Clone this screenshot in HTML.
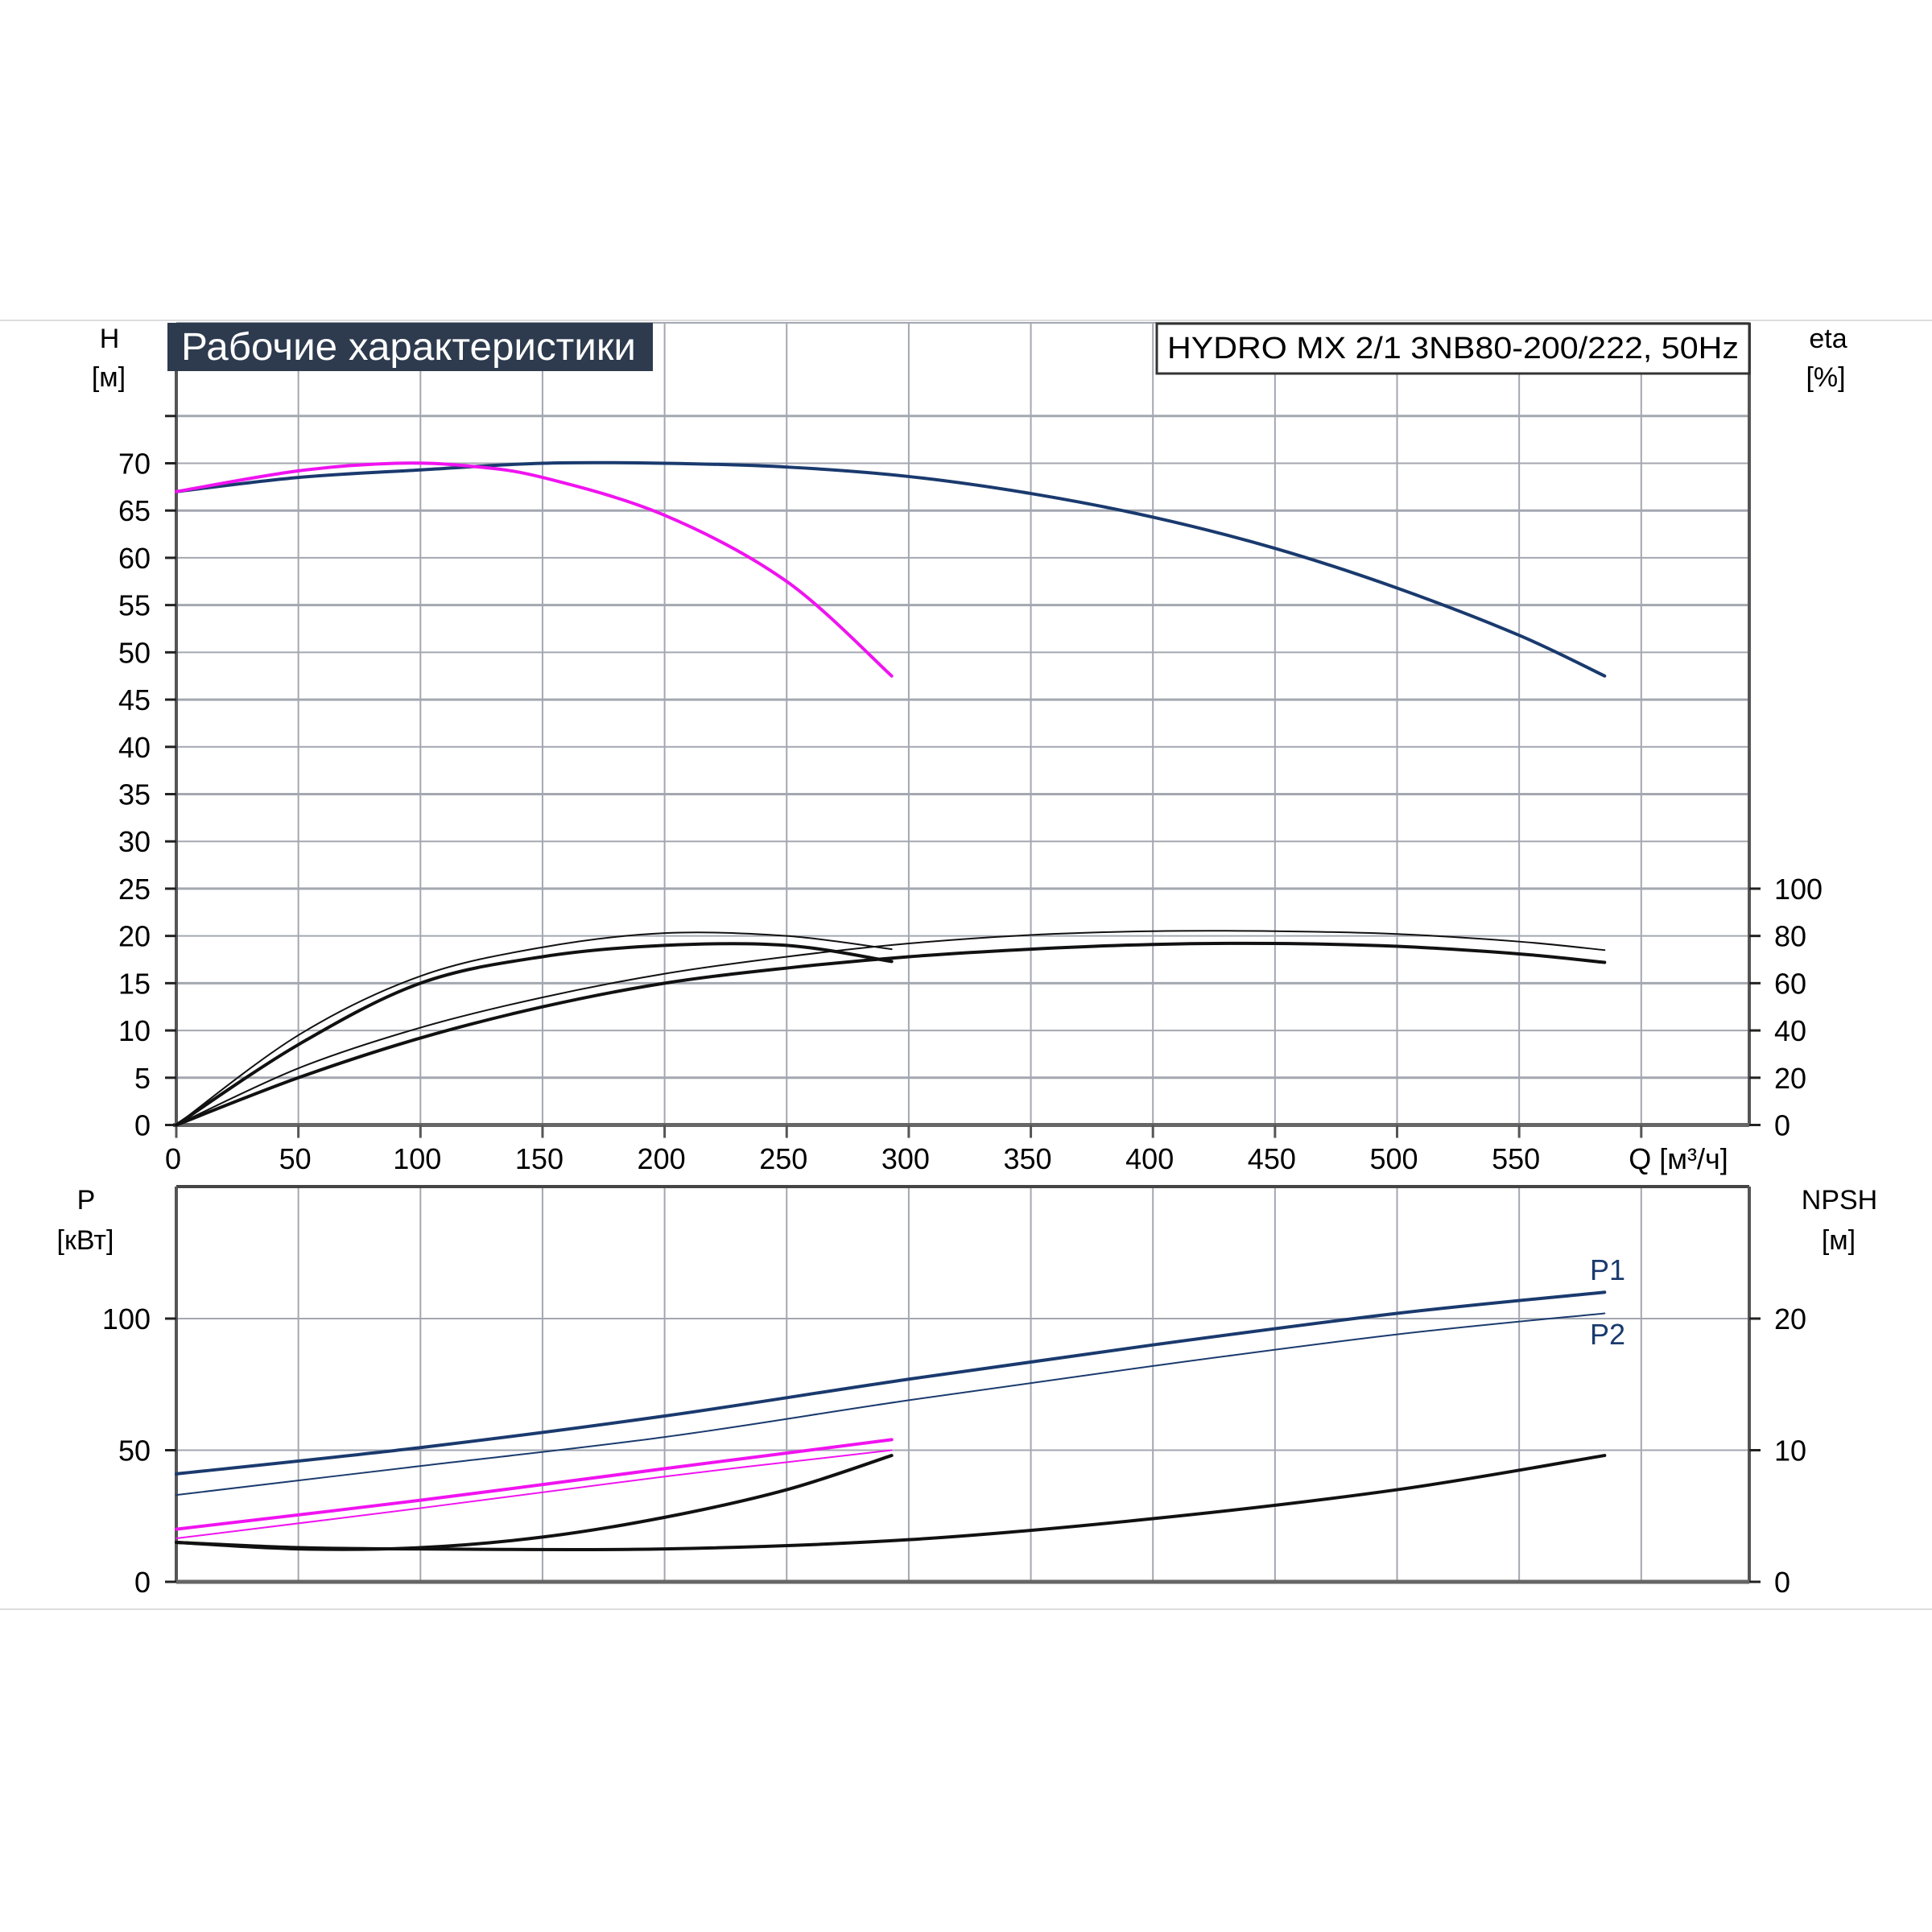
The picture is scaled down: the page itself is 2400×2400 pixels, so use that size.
<!DOCTYPE html>
<html><head><meta charset="utf-8"><style>
html,body{margin:0;padding:0;background:#fff}
svg{display:block}
text{font-family:"Liberation Sans","Noto Sans CJK SC",sans-serif}
</style></head><body>
<svg id="c" width="2400" height="2400" viewBox="0 0 2400 2400"></svg>
<script>
// ---- data ----
const qTicks=[0,50,100,150,200,250,300,350,400,450,500,550];
const hTicks=[0,5,10,15,20,25,30,35,40,45,50,55,60,65,70];
const etaTicks=[0,20,40,60,80,100];
const pTicks=[0,50,100];
const npshTicks=[0,10,20];
const headQ=[0,50,100,150,200,250,300,350,400,450,500,550,585];
const headH=[67,68.5,69.3,70,70,69.6,68.6,66.8,64.3,61,56.8,51.8,47.5];
const headLowQ=[0,50,90,120,150,200,250,293];
const headLowH=[67,69.2,70,69.7,68.5,64.5,57.5,47.5];
const etaQ=[0,50,100,150,200,250,300,350,400,450,500,550,585];
const etaTotal=[0,20,36.8,50,60,66.4,71.2,74.4,76.4,76.8,75.6,72.4,68.8];
const etaPump=[0,24,41.2,54,64,71.2,76.8,80.4,82,82,80.8,77.6,74];
const etaLowQ=[0,50,100,150,200,250,293];
const etaLowTotal=[0,34,60,71.2,76,76,69.2];
const etaLowPump=[0,38,63,75.2,81.2,80,74.4];
const pQ=[0,100,200,300,400,500,585];
const p1=[41,51,63,77,90,102,110];
const p2=[33,44,55,69,82,94,102];
const pLowQ=[0,100,200,293];
const p1Low=[20,31,43,54];
const p2Low=[16.5,28,40,50];
const npshQ=[0,50,100,200,300,400,500,585];
const npsh=[3,2.6,2.5,2.5,3.2,4.8,7,9.6];
const npshLowQ=[0,50,100,150,200,250,293];
const npshLow=[3,2.5,2.6,3.4,4.9,7,9.6];

// ---- axes ----
const X0=219,XR=2173,QU=3.033;
const x=q=>X0+q*QU;
const H0=1397.5,HU=11.743;
const yH=h=>H0-h*HU;
const yE=e=>yH(e/4);
const P0=1965,PU=3.27;
const yP=p=>P0-p*PU;
const yN=n=>yP(n*5);
const svg=document.getElementById('c');
const NS='http://www.w3.org/2000/svg';
function mk(tag,attrs,name,parent){const e=document.createElementNS(NS,tag);for(const k in attrs)e.setAttribute(k,attrs[k]);


(parent||svg).appendChild(e);return e;}
function txt(s,xx,yy,size,anchor,name,fill){const t=mk('text',{x:xx,y:yy,'font-size':size,'text-anchor':anchor||'start',fill:fill||'#000'},name);t.textContent=s;return t;}
function curve(qs,vs,yf,color,w,name){const pts=qs.map((q,i)=>[x(q),yf(vs[i])]);let d='M'+pts[0][0]+','+pts[0][1];
for(let i=0;i<pts.length-1;i++){const p0=pts[i-1]||pts[i],p1=pts[i],p2=pts[i+1],p3=pts[i+2]||p2;
d+=' C'+(p1[0]+(p2[0]-p0[0])/6)+','+(p1[1]+(p2[1]-p0[1])/6)+' '+(p2[0]-(p3[0]-p1[0])/6)+','+(p2[1]-(p3[1]-p1[1])/6)+' '+p2[0]+','+p2[1];}
mk('path',{d:d,fill:'none',stroke:color,'stroke-width':w,'stroke-linecap':'round'},name);}

// separator lines
mk('line',{x1:0,y1:398,x2:2400,y2:398,stroke:'#ddd','stroke-width':2},'top-separator');
mk('line',{x1:0,y1:1999,x2:2400,y2:1999,stroke:'#ddd','stroke-width':2},'bottom-separator');

// top grid
const topY=401;
qTicks.concat([600]).forEach(q=>{if(q>0)mk('line',{x1:x(q),y1:topY,x2:x(q),y2:H0,stroke:'#a3a7b0','stroke-width':2},'grid-v-top');});
hTicks.concat([75]).forEach(h=>{if(h>0)mk('line',{x1:X0,y1:yH(h),x2:XR,y2:yH(h),stroke:'#a3a7b0','stroke-width':h%10==0&&h!=75?2:3},'grid-h-top');});
mk('line',{x1:X0,y1:topY,x2:XR,y2:topY,stroke:'#a3a7b0','stroke-width':2},'top-frame');
mk('line',{x1:X0,y1:topY,x2:X0,y2:H0,stroke:'#555','stroke-width':4},'y-axis-left');
mk('line',{x1:XR,y1:topY,x2:XR,y2:H0,stroke:'#555','stroke-width':4},'y-axis-right');
mk('line',{x1:X0-4,y1:H0,x2:XR,y2:H0,stroke:'#666','stroke-width':5},'x-axis');
hTicks.concat([75]).forEach(h=>{mk('line',{x1:X0-14,y1:yH(h),x2:X0,y2:yH(h),stroke:'#222','stroke-width':3},'y-tick');
if(h<75)txt(String(h),187,yH(h)+13,36,'end','y-tick-label');});
etaTicks.forEach(e=>{mk('line',{x1:XR,y1:yE(e),x2:XR+14,y2:yE(e),stroke:'#222','stroke-width':3},'eta-tick');txt(String(e),2204,yE(e)+13,36,'start','eta-tick-label');});
qTicks.concat([600]).forEach(q=>{mk('line',{x1:x(q),y1:H0,x2:x(q),y2:H0+16,stroke:'#555','stroke-width':3},'x-tick');});
qTicks.forEach(q=>txt(String(q),x(q)-4,1452,36,'middle','x-tick-label'));
txt('Q [м³/ч]',2085,1452,36,'middle','x-axis-title');
txt('H',136,432,34,'middle','y-axis-title');
txt('[м]',135,480,34,'middle','y-axis-unit');
txt('eta',2271,432,34,'middle','eta-axis-title');
txt('[%]',2268,480,34,'middle','eta-axis-unit');

// title boxes
mk('rect',{x:208,y:401,width:603,height:60,fill:'#2e3b4e'},'title-box');
const tt=txt('Рабочие характеристики',225,447,48,'start','chart-title','#fff');
tt.setAttribute('textLength','565');tt.setAttribute('lengthAdjust','spacingAndGlyphs');
mk('rect',{x:1437,y:402,width:736,height:62,fill:'#fff',stroke:'#333','stroke-width':3},'model-box');
const mt=txt('HYDRO MX 2/1 3NB80-200/222, 50Hz',1450,445,38,'start','model-label');
mt.setAttribute('textLength','710');mt.setAttribute('lengthAdjust','spacingAndGlyphs');

// top curves
curve(etaQ,etaPump,yE,'#111',2,'eta-pump-curve');
curve(etaQ,etaTotal,yE,'#111',4,'eta-total-curve');
curve(etaLowQ,etaLowPump,yE,'#111',2,'eta-pump-low-curve');
curve(etaLowQ,etaLowTotal,yE,'#111',4,'eta-total-low-curve');
curve(headQ,headH,yH,'#1a3a6e',4,'head-curve');
curve(headLowQ,headLowH,yH,'#f013f0',4,'head-low-curve');

// bottom chart
const bTop=1474;
qTicks.concat([600]).forEach(q=>{if(q>0)mk('line',{x1:x(q),y1:bTop,x2:x(q),y2:P0,stroke:'#a3a7b0','stroke-width':2},'grid-v-bottom');});
[50,100].forEach(p=>mk('line',{x1:X0,y1:yP(p),x2:XR,y2:yP(p),stroke:'#a3a7b0','stroke-width':2},'grid-h-bottom'));
mk('line',{x1:X0,y1:bTop,x2:XR,y2:bTop,stroke:'#444','stroke-width':4},'bottom-top-frame');
mk('line',{x1:X0,y1:bTop,x2:X0,y2:P0,stroke:'#555','stroke-width':4},'p-axis');
mk('line',{x1:XR,y1:bTop,x2:XR,y2:P0,stroke:'#555','stroke-width':4},'npsh-axis');
mk('line',{x1:X0,y1:P0,x2:XR,y2:P0,stroke:'#666','stroke-width':5},'bottom-x-axis');
pTicks.forEach(p=>{mk('line',{x1:X0-14,y1:yP(p),x2:X0,y2:yP(p),stroke:'#222','stroke-width':3},'p-tick');txt(String(p),187,yP(p)+13,36,'end','p-tick-label');});
npshTicks.forEach(n=>{mk('line',{x1:XR,y1:yN(n),x2:XR+14,y2:yN(n),stroke:'#222','stroke-width':3},'npsh-tick');txt(String(n),2204,yN(n)+13,36,'start','npsh-tick-label');});
txt('P',107,1502,34,'middle','p-axis-title');
txt('[кВт]',106,1552,34,'middle','p-axis-unit');
txt('NPSH',2285,1502,34,'middle','npsh-axis-title');
txt('[м]',2284,1552,34,'middle','npsh-axis-unit');
curve(pQ,p2,yP,'#1a3a6e',2,'p2-curve');
curve(pQ,p1,yP,'#1a3a6e',4,'p1-curve');
curve(pLowQ,p2Low,yP,'#f013f0',2,'p2-low-curve');
curve(pLowQ,p1Low,yP,'#f013f0',4,'p1-low-curve');
curve(npshQ,npsh,yN,'#111',4,'npsh-curve');
curve(npshLowQ,npshLow,yN,'#111',4,'npsh-low-curve');
txt('P1',1997,1590,36,'middle','p1-label','#1a3a6e');
txt('P2',1997,1670,36,'middle','p2-label','#1a3a6e');
</script>
</body></html>
